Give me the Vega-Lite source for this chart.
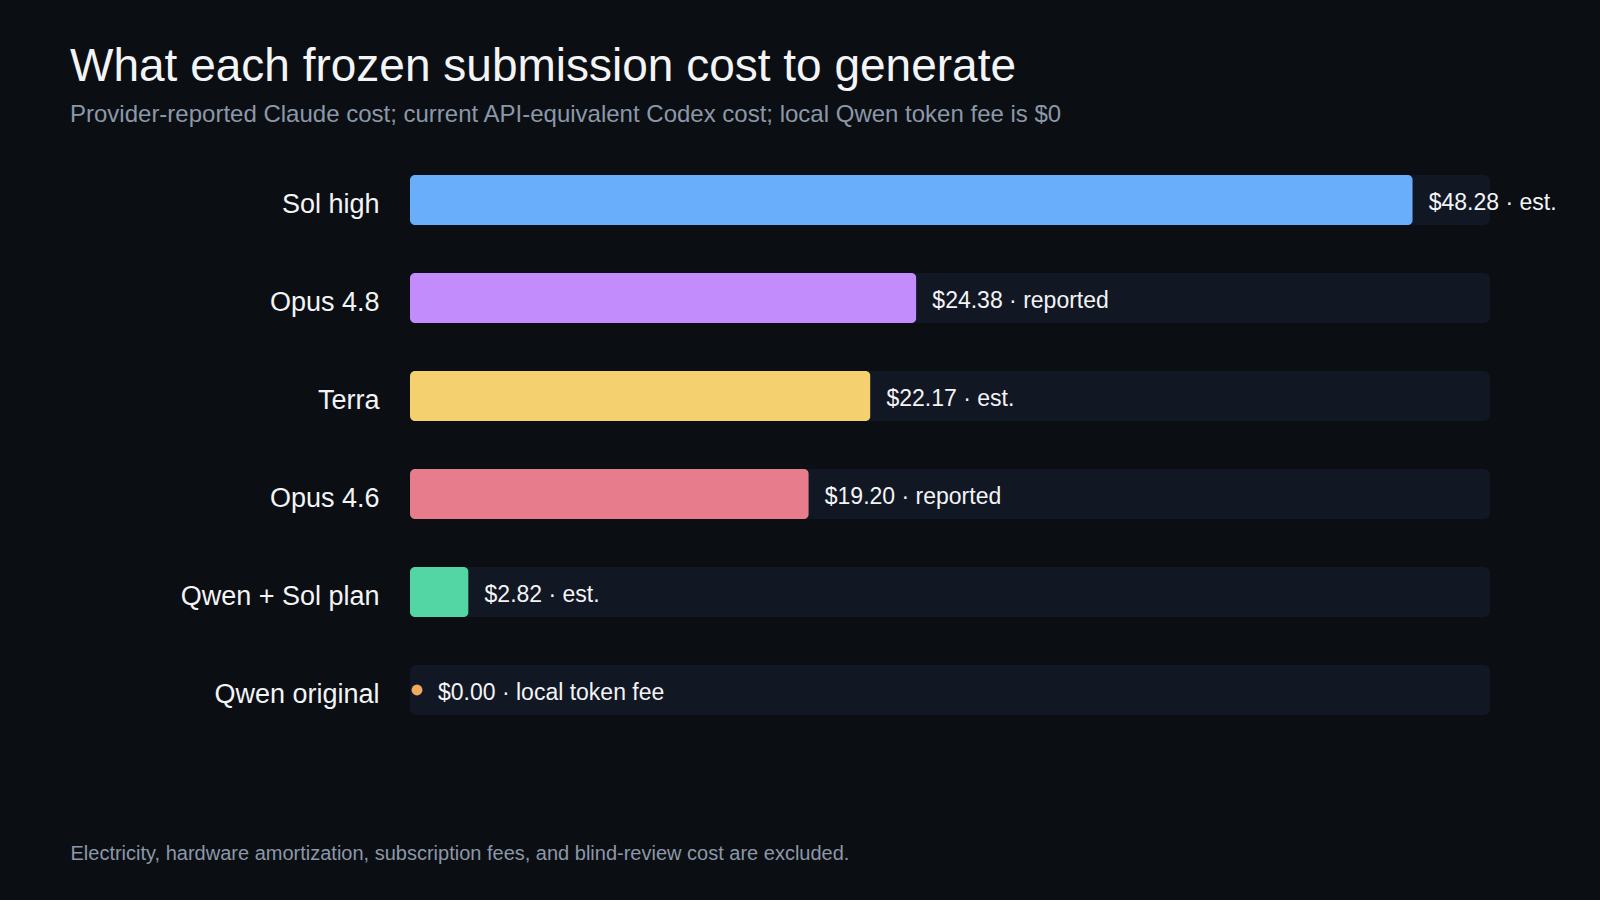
{
  "$schema": "https://vega.github.io/schema/vega-lite/v6.json",
  "width": 1080,
  "height": 588,
  "autosize": {"type": "none"},
  "padding": {"left": 410, "top": 151, "right": 110, "bottom": 161},
  "background": "#0b0e13",
  "title": {
    "text": "What each frozen submission cost to generate",
    "subtitle": "Provider-reported Claude cost; current API-equivalent Codex cost; local Qwen token fee is $0",
    "anchor": "start",
    "frame": "group",
    "dx": -340,
    "offset": 23,
    "font": "Liberation Sans",
    "fontSize": 46,
    "fontWeight": "normal",
    "color": "#f3f4f6",
    "subtitleFont": "Liberation Sans",
    "subtitleFontSize": 24,
    "subtitleColor": "#8b98a8",
    "subtitlePadding": 12
  },
  "data": {
    "values": [
      {"model": "Sol high", "cost": 48.28, "label": "$48.28 · est."},
      {"model": "Opus 4.8", "cost": 24.38, "label": "$24.38 · reported"},
      {"model": "Terra", "cost": 22.17, "label": "$22.17 · est."},
      {"model": "Opus 4.6", "cost": 19.20, "label": "$19.20 · reported"},
      {"model": "Qwen + Sol plan", "cost": 2.82, "label": "$2.82 · est."},
      {"model": "Qwen original", "cost": 0, "label": "$0.00 · local token fee"}
    ]
  },
  "encoding": {
    "y": {
      "field": "model",
      "type": "nominal",
      "sort": null,
      "scale": {"paddingInner": 0.49, "paddingOuter": 0.245},
      "axis": {
        "title": null,
        "ticks": false,
        "domain": false,
        "labelFont": "Liberation Sans",
        "labelFontSize": 27,
        "labelColor": "#f3f4f6",
        "labelPadding": 31,
        "labelLimit": 400,
        "labelBaseline": "middle",
        "labelOffset": 5
      }
    }
  },
  "layer": [
    {
      "mark": {"type": "bar", "color": "#121724", "cornerRadius": 6},
      "encoding": {
        "x": {
          "datum": 0,
          "type": "quantitative",
          "scale": {"domain": [0, 52], "nice": false, "zero": true},
          "axis": {
            "labels": false,
            "ticks": false,
            "domain": false,
            "grid": false,
            "title": "Electricity, hardware amortization, subscription fees, and blind-review cost are excluded.",
            "titleFont": "Liberation Sans",
            "titleFontSize": 20,
            "titleFontWeight": "normal",
            "titleColor": "#8b98a8",
            "titleAnchor": "start",
            "titleAlign": "left",
            "titleBaseline": "alphabetic",
            "titleX": -340,
            "titleY": 120
          }
        },
        "x2": {"datum": 52}
      }
    },
    {
      "transform": [{"filter": "datum.cost > 0"}],
      "mark": {"type": "bar", "cornerRadius": 5},
      "encoding": {
        "x": {"field": "cost", "type": "quantitative"},
        "color": {
          "field": "model",
          "type": "nominal",
          "legend": null,
          "scale": {
            "domain": ["Sol high", "Opus 4.8", "Terra", "Opus 4.6", "Qwen + Sol plan", "Qwen original"],
            "range": ["#69aefb", "#c28cfc", "#f4d06e", "#e67c8c", "#53d6a3", "#f1aa5e"]
          }
        }
      }
    },
    {
      "transform": [{"filter": "datum.cost == 0"}],
      "mark": {"type": "point", "filled": true, "opacity": 1, "size": 120, "xOffset": 7, "color": "#f1aa5e"},
      "encoding": {
        "x": {"field": "cost", "type": "quantitative"}
      }
    },
    {
      "transform": [{"filter": "datum.cost > 0"}],
      "mark": {"type": "text", "align": "left", "baseline": "middle", "dx": 16, "dy": 3, "font": "Liberation Sans", "fontSize": 23, "color": "#f3f4f6"},
      "encoding": {
        "x": {"field": "cost", "type": "quantitative"},
        "text": {"field": "label"}
      }
    },
    {
      "transform": [{"filter": "datum.cost == 0"}],
      "mark": {"type": "text", "align": "left", "baseline": "middle", "dx": 28, "dy": 3, "font": "Liberation Sans", "fontSize": 23, "color": "#f3f4f6"},
      "encoding": {
        "x": {"field": "cost", "type": "quantitative"},
        "text": {"field": "label"}
      }
    }
  ],
  "config": {
    "view": {"stroke": null}
  }
}
